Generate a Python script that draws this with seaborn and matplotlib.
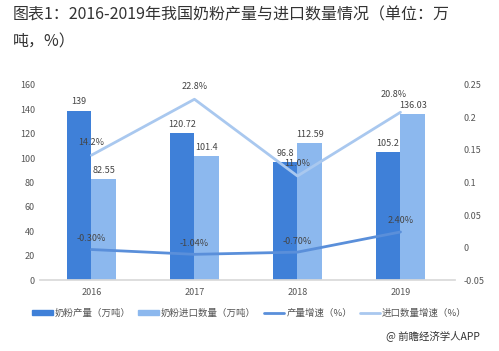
import numpy as np
import pandas as pd
import seaborn as sns
import matplotlib.pyplot as plt
from matplotlib.patches import Patch
from matplotlib.lines import Line2D

years = ['2016', '2017', '2018', '2019']
production = [139, 120.72, 96.8, 105.2]
imports = [82.55, 101.4, 112.59, 136.03]
prod_growth = [-0.003, -0.0104, -0.007, 0.024]
import_growth = [0.142, 0.228, 0.110, 0.208]
prod_growth_labels = ['-0.30%', '-1.04%', '-0.70%', '2.40%']
import_growth_labels = ['14.2%', '22.8%', '11.0%', '20.8%']

series_names = ['奶粉产量（万吨）', '奶粉进口数量（万吨）', '产量增速（%）', '进口数量增速（%）']
dark_blue = '#3f80d8'
light_blue = '#8cb8ee'
line_dark = '#5a8fda'
line_light = '#a9c8ef'

sns.set_theme(style='white')
plt.rcParams['font.family'] = ['Noto Sans CJK SC', 'DejaVu Sans']

bars = pd.DataFrame({
    'year': years * 2,
    'value': production + imports,
    'series': [series_names[0]] * 4 + [series_names[1]] * 4,
})

fig = plt.figure(figsize=(4.99, 3.51), dpi=100)
ax = fig.add_axes([0.080, 0.202, 0.832, 0.556])

sns.barplot(data=bars, x='year', y='value', hue='series', ax=ax,
            palette=[dark_blue, light_blue], width=0.48, gap=0,
            saturation=1, legend=False, linewidth=0, edgecolor='none')
for cont in ax.containers:
    ax.bar_label(cont, labels=[f'{v:g}' for v in cont.datavalues],
                 padding=3, fontsize=6.5, color='#444444')

ax.set_ylim(0, 160)
ax.set_yticks(range(0, 161, 20))
ax.set_xlim(-0.5, 3.53)
ax.set_xlabel('')
ax.set_ylabel('')
ax.tick_params(axis='both', length=0, labelsize=6.5, colors='#555555')
ax.tick_params(axis='x', pad=6)
for s in ['top', 'right', 'left']:
    ax.spines[s].set_visible(False)
ax.spines['bottom'].set_color('#d9d9d9')

ax2 = ax.twinx()
xpos = np.arange(len(years))
sns.lineplot(x=xpos, y=prod_growth, ax=ax2, color=line_dark, linewidth=2)
sns.lineplot(x=xpos, y=import_growth, ax=ax2, color=line_light, linewidth=2)
for x, y, t in zip(xpos, prod_growth, prod_growth_labels):
    ax2.annotate(t, (x, y), xytext=(0, 8), textcoords='offset points',
                 ha='center', va='center', fontsize=6.5, color='#444444')
for x, y, t in zip(xpos, import_growth, import_growth_labels):
    # 20.8% sits right next to the 136.03 bar label
    off = (-5, 13) if t == '20.8%' else (0, 9)
    ax2.annotate(t, (x, y), xytext=off, textcoords='offset points',
                 ha='center', va='center', fontsize=6.5, color='#444444')
ax2.set_ylim(-0.05, 0.25)
ax2.set_yticks([-0.05, 0, 0.05, 0.1, 0.15, 0.2, 0.25])
ax2.set_yticklabels(['-0.05', '0', '0.05', '0.1', '0.15', '0.2', '0.25'])
ax2.tick_params(axis='y', length=0, labelsize=6.5, colors='#555555', pad=6)
for s in ['top', 'right', 'left', 'bottom']:
    ax2.spines[s].set_visible(False)
ax2.set_xlim(-0.5, 3.53)

handles = [
    Patch(color=dark_blue),
    Patch(color=light_blue),
    Line2D([], [], color=line_dark, linewidth=2),
    Line2D([], [], color=line_light, linewidth=2),
]
fig.legend(handles, series_names, loc='center', bbox_to_anchor=(0.5, 0.108),
           ncol=4, frameon=False, fontsize=6.8, handlelength=2.2,
           handleheight=0.5, handletextpad=0.2, columnspacing=0.8,
           labelcolor='#555555')

fig.text(0.026, 0.957, '图表1：2016-2019年我国奶粉产量与进口数量情况（单位：万',
         fontsize=11.5, color='#333333', va='center', ha='left')
fig.text(0.026, 0.88, '吨，%）', fontsize=11.5, color='#333333',
         va='center', ha='left')
fig.text(0.962, 0.045, '@ 前瞻经济学人APP', fontsize=7.5, color='#333333',
         ha='right', va='center')

fig.savefig('out.png', dpi=100)
